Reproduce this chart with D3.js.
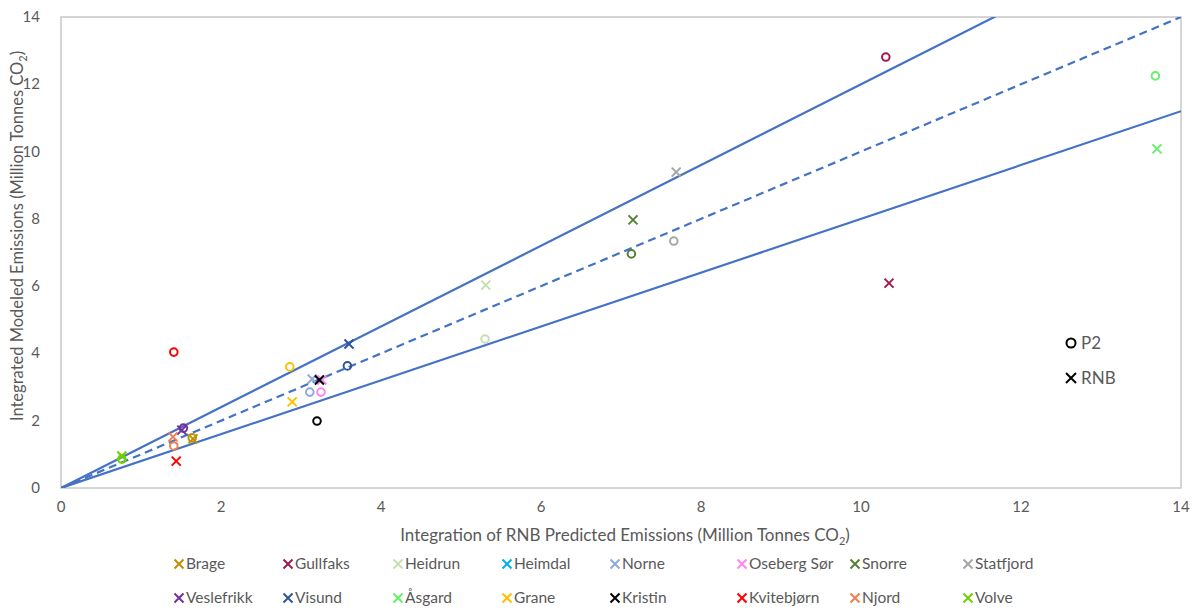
<!DOCTYPE html>
<html>
<head>
<meta charset="utf-8">
<script src="https://cdn.jsdelivr.net/npm/d3@7"></script>
<style>
  body { margin: 0; background: #fff; }
  svg text { font-family: Lato, "Open Sans", sans-serif; fill: #595959; }
</style>
</head>
<body>
<svg id="chart" width="1199" height="610"></svg>
<script>
const fields = ['Brage', 'Gullfaks', 'Heidrun', 'Heimdal', 'Norne', 'Oseberg Sør', 'Snorre', 'Statfjord',
  'Veslefrikk', 'Visund', 'Åsgard', 'Grane', 'Kristin', 'Kvitebjørn', 'Njord', 'Volve'];
const fieldColors = ['#BF9000', '#A01A52', '#C5E0B4', '#00B0F0', '#8FAADC', '#FF85F0', '#548235', '#A6A6A6',
  '#7030A0', '#2F5597', '#66F06B', '#FFC000', '#000000', '#FF0000', '#F07F50', '#70D000'];

// P2 (circles) and RNB (crosses); Heimdal has no plotted point
const p2X = [1.64, 10.31, 5.30, null, 3.11, 3.25, 7.13, 7.66, 1.53, 3.58, 13.68, 2.86, 3.20, 1.41, 1.41, 0.76];
const p2Y = [1.49, 12.81, 4.43, null, 2.85, 2.85, 6.96, 7.34, 1.78, 3.63, 12.25, 3.60, 1.99, 4.04, 1.25, 0.86];
const rnbX = [1.65, 10.35, 5.31, null, 3.14, 3.26, 7.15, 7.69, 1.51, 3.60, 13.70, 2.89, 3.23, 1.44, 1.40, 0.76];
const rnbY = [1.46, 6.09, 6.03, null, 3.24, 3.21, 7.97, 9.39, 1.72, 4.28, 10.08, 2.56, 3.21, 0.80, 1.52, 0.95];

const ticks = [0, 2, 4, 6, 8, 10, 12, 14];
const refSlopes = [1.2, 1.0, 0.8];
const refDashed = [false, true, false];

const svg = d3.select('svg#chart');
const x = d3.scaleLinear().domain([0, 14]).range([61, 1181]);
const y = d3.scaleLinear().domain([0, 14]).range([488, 17]);

// plot frame
svg.append('rect')
  .attr('x', x(0)).attr('y', y(14))
  .attr('width', x(14) - x(0)).attr('height', y(0) - y(14))
  .attr('fill', 'none').attr('stroke', '#C8C8C8').attr('stroke-width', 1.5);

// tick labels
svg.append('g').selectAll('text').data(ticks).enter().append('text')
  .attr('x', d => x(d)).attr('y', 512)
  .attr('text-anchor', 'middle').attr('font-size', 15)
  .text(d => d);
svg.append('g').selectAll('text').data(ticks).enter().append('text')
  .attr('x', 40).attr('y', d => y(d) + 5)
  .attr('text-anchor', 'end').attr('font-size', 15)
  .text(d => d);

// axis titles
const xt = svg.append('text').attr('x', 625).attr('y', 541)
  .attr('text-anchor', 'middle').attr('font-size', 17);
xt.append('tspan').text('Integration of RNB Predicted Emissions (Million Tonnes CO');
xt.append('tspan').attr('font-size', 11).attr('dy', 4).text('2');
xt.append('tspan').attr('dy', -4).text(')');

const yt = svg.append('text').attr('transform', 'translate(23,236) rotate(-90)')
  .attr('text-anchor', 'middle').attr('font-size', 16.5);
yt.append('tspan').text('Integrated Modeled Emissions (Million Tonnes CO');
yt.append('tspan').attr('font-size', 11).attr('dy', 4).text('2');
yt.append('tspan').attr('dy', -4).text(')');

// reference lines
svg.append('clipPath').attr('id', 'plotclip').append('rect')
  .attr('x', x(0)).attr('y', y(14)).attr('width', x(14) - x(0)).attr('height', y(0) - y(14));
svg.append('g').attr('clip-path', 'url(#plotclip)')
  .selectAll('line').data(refSlopes).enter().append('line')
  .attr('x1', x(0)).attr('y1', y(0))
  .attr('x2', x(14)).attr('y2', d => y(14 * d))
  .attr('stroke', '#4472C4').attr('stroke-width', 2.2)
  .attr('stroke-dasharray', (d, i) => refDashed[i] ? '8,5' : null);

const cross = (g, cx, cy, h, color, w) => {
  g.append('path')
    .attr('d', `M${cx - h},${cy - h}L${cx + h},${cy + h}M${cx - h},${cy + h}L${cx + h},${cy - h}`)
    .attr('stroke', color).attr('stroke-width', w).attr('fill', 'none');
};

// markers
const marks = svg.append('g');
fields.forEach((f, i) => {
  if (p2X[i] == null) return;
  marks.append('circle')
    .attr('cx', x(p2X[i])).attr('cy', y(p2Y[i])).attr('r', 3.8)
    .attr('fill', 'none').attr('stroke', fieldColors[i]).attr('stroke-width', 2);
  cross(marks, x(rnbX[i]), y(rnbY[i]), 4.5, fieldColors[i], 2);
});

// P2 / RNB key
const key = svg.append('g');
key.append('circle').attr('cx', 1071).attr('cy', 343).attr('r', 4.5)
  .attr('fill', 'none').attr('stroke', '#000').attr('stroke-width', 2);
key.append('text').attr('x', 1081).attr('y', 349).attr('font-size', 17).text('P2');
cross(key, 1071, 378, 5, '#000', 2);
key.append('text').attr('x', 1081).attr('y', 384).attr('font-size', 17).text('RNB');

// field legend
const legX = [179, 288, 398, 507, 615, 742, 855, 968];
const legY = [564, 598];
const legend = svg.append('g');
fields.forEach((f, i) => {
  const lx = legX[i % 8], ly = legY[Math.floor(i / 8)];
  cross(legend, lx, ly, 4.5, fieldColors[i], 2);
  legend.append('text').attr('x', lx + 7).attr('y', ly + 5)
    .attr('font-size', 15.5).text(f);
});
</script>
</body>
</html>
